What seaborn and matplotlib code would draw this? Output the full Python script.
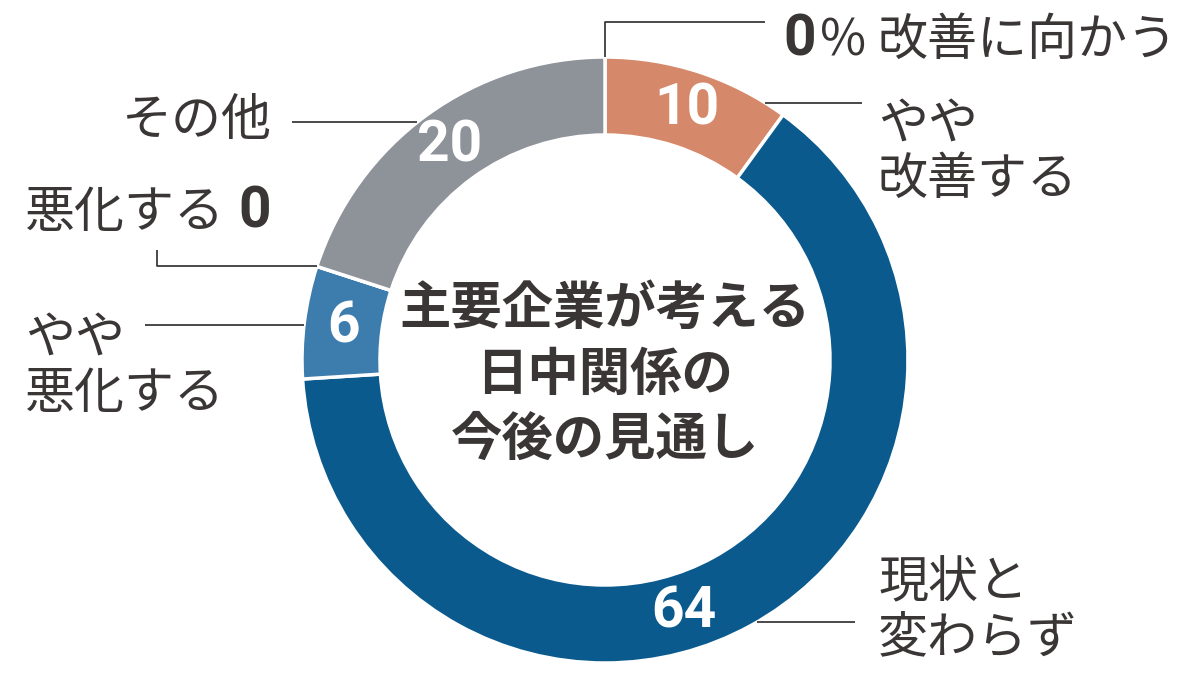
"""Donut chart: 主要企業が考える日中関係の今後の見通し."""

import matplotlib.pyplot as plt
import numpy as np
import seaborn as sns

W, H = 1200, 677

# data (percent), clockwise from 12 o'clock
categories = ["改善に向かう", "やや改善する", "現状と変わらず", "やや悪化する", "悪化する", "その他"]
display_labels = ["改善に向かう", "やや\n改善する", "現状と\n変わらず", "やや\n悪化する", "悪化する", "その他"]
values = [0, 10, 64, 6, 0, 20]
value_labels = ["0", "10", "64", "6", "0", "20"]
colors = ["#D6886A", "#D6886A", "#0B5A8D", "#3D7DAE", "#3D7DAE", "#8E9299"]
title = "主要企業が考える\n日中関係の\n今後の見通し"

TEXT = "#3b3636"
LINE = "#3a3a3a"
CX, CY = 605, 360          # donut centre (pixels from top-left)
R_OUT, R_IN = 303, 225

sns.set_theme(style="white")
plt.rcParams["font.family"] = ["Noto Sans CJK JP", "DejaVu Sans"]

fig = plt.figure(figsize=(W / 100, H / 100), dpi=100)
ax = fig.add_axes([0, 0, 1, 1])

wedges, _ = ax.pie(
    values,
    colors=colors,
    startangle=90,
    counterclock=False,
    radius=R_OUT,
    center=(CX, H - CY),
    wedgeprops=dict(width=R_OUT - R_IN, edgecolor="white", linewidth=2.5),
)
ax.set_xlim(0, W)
ax.set_ylim(0, H)
ax.set_aspect("auto")
ax.axis("off")


def ring_point(angle_deg, r):
    a = np.deg2rad(angle_deg)
    return CX + r * np.cos(a), (H - CY) + r * np.sin(a)


def edge_x(py, side):
    dy = py - CY
    return CX + side * np.sqrt(R_OUT ** 2 - dy ** 2)


def leader(xs, ys):
    ax.plot(xs, [H - y for y in ys], color=LINE, lw=1.3, solid_capstyle="butt")


# values inside the ring
num_frac = {"現状と変わらず": 0.55}
for w, cat, val, lab in zip(wedges, categories, values, value_labels):
    if val == 0:
        continue
    f = num_frac.get(cat, 0.5)
    ang = w.theta2 - f * (w.theta2 - w.theta1)
    x, y = ring_point(ang, (R_OUT + R_IN) / 2)
    ax.text(x, y, lab, color="white", fontsize=41, fontweight="bold",
            family=["Roboto", "DejaVu Sans"], ha="center", va="center")

lab_kw = dict(color=TEXT, fontsize=36, va="center", linespacing=1.08)
zero_kw = dict(color=TEXT, fontsize=41, fontweight="bold", va="center",
               family=["Roboto", "DejaVu Sans"])

# 改善に向かう (0%)
x0, y0 = ring_point(wedges[0].theta2, R_OUT)
leader([x0, x0, 765], [H - y0, 22, 22])
ax.text(816, H - 40, value_labels[0], ha="right", **zero_kw)
ax.text(866, H - 41, "%", ha="right", **lab_kw)
ax.text(878, H - 41, display_labels[0], ha="left", **lab_kw)

# やや改善する
leader([edge_x(103, 1), 862], [103, 103])
ax.text(878, H - 152, display_labels[1], ha="left", **lab_kw)

# 現状と変わらず
leader([edge_x(622, 1), 855], [622, 622])
ax.text(878, H - 611, display_labels[2], ha="left", **lab_kw)

# やや悪化する
leader([edge_x(325, -1), 145], [325, 325])
ax.text(25, H - 366, display_labels[3], ha="left", **lab_kw)

# 悪化する (0)
x4, y4 = ring_point(wedges[4].theta1, R_OUT)
leader([x4, 157, 157], [H - y4, H - y4, 250])
ax.text(25, H - 213, display_labels[4], ha="left", **lab_kw)
ax.text(238, H - 212, value_labels[4], ha="left", **zero_kw)

# その他
leader([edge_x(122, -1), 292], [122, 122])
ax.text(272, H - 121, display_labels[5], ha="right", **lab_kw)

# centre title
ax.text(CX, H - 374, title, color=TEXT, fontsize=37, fontweight="bold",
        ha="center", va="center", linespacing=1.3)

fig.savefig("out.png", dpi=100, facecolor="white")
